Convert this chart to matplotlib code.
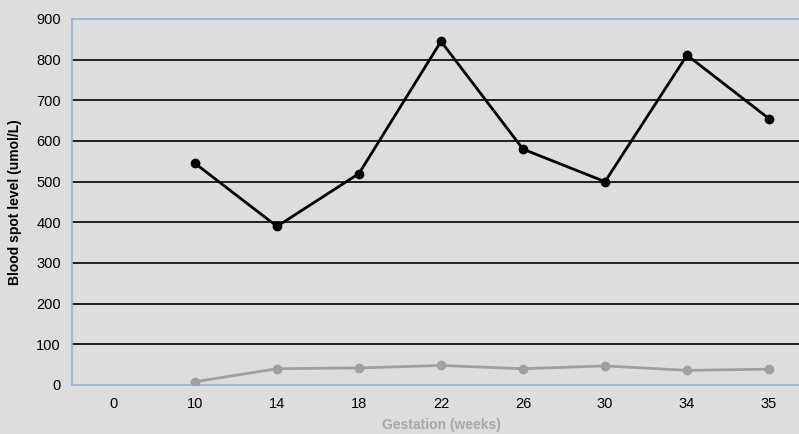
import matplotlib.pyplot as plt

# データ
weeks = ['0', '10', '14', '18', '22', '26', '30', '34', '35']
black_vals = [None, 545, 390, 520, 845, 580, 500, 811, 655]
gray_vals = [None, 8, 40, 42, 48, 40, 47, 36, 39]
y_ticks = [0, 100, 200, 300, 400, 500, 600, 700, 800, 900]

plt.rcParams['font.family'] = ['Liberation Sans', 'DejaVu Sans']
bg = '#dcdddc'

fig = plt.figure(figsize=(7.99, 4.34), dpi=100, facecolor=bg)
# 右端は図の外まで伸びている
ax = fig.add_axes([72 / 799, 49 / 434, 738 / 799, 366 / 434])
ax.set_facecolor(bg)

x = list(range(len(weeks)))
bx = [i for i, v in zip(x, black_vals) if v is not None]
by = [v for v in black_vals if v is not None]
gx = [i for i, v in zip(x, gray_vals) if v is not None]
gy = [v for v in gray_vals if v is not None]

for t in y_ticks[1:-1]:
    ax.axhline(t, color='black', linewidth=1.2, zorder=1)

ax.plot(gx, gy, color='#a0a0a0', linewidth=2.0, marker='o', markersize=6, zorder=3)
ax.plot(bx, by, color='black', linewidth=2.0, marker='o', markersize=6, zorder=4)

ax.set_xlim(-0.5, len(weeks) - 0.5)
ax.set_ylim(0, 900)
ax.set_xticks(x)
ax.set_xticklabels(weeks)
ax.set_yticks(y_ticks)
ax.tick_params(length=0, labelsize=10.5, pad=8)
ax.tick_params(axis='x', pad=9)

for s in ['left', 'top', 'bottom']:
    ax.spines[s].set_color('#8db4de')
    ax.spines[s].set_linewidth(1.2)
ax.spines['right'].set_visible(False)

ax.set_xlabel('Gestation (weeks)', fontsize=10, fontweight='bold', color='#a8a8a8', labelpad=5)
ax.set_ylabel('Blood spot level (umol/L)', fontsize=10, fontweight='bold', labelpad=10)

fig.savefig('out.png', dpi=100, facecolor=bg)
